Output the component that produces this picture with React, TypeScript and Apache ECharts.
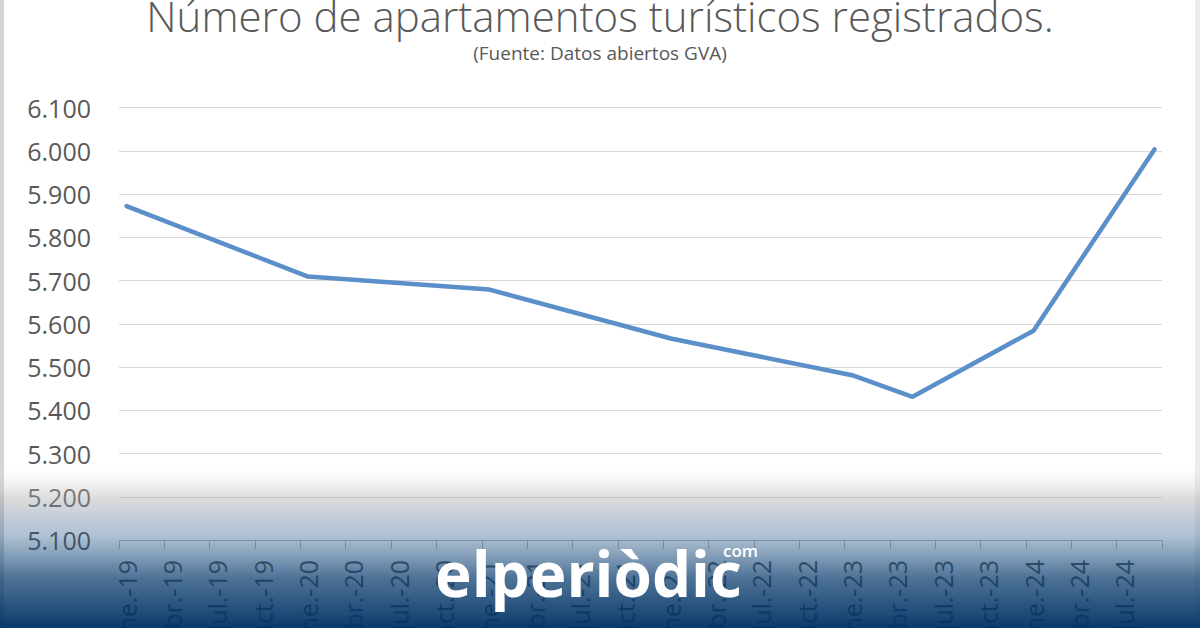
import React, { useEffect, useRef } from "react";
import * as echarts from "echarts";

const TITLE = "Número de apartamentos turísticos registrados.";
const SUBTITLE = "(Fuente: Datos abiertos GVA)";

const monthNames = ["ene.", "feb.", "mar.", "abr.", "may.", "jun.", "jul.", "ago.", "sept.", "oct.", "nov.", "dic."];
const years = ["19", "20", "21", "22", "23", "24"];
const lastCategory = "sept.-24";

const pointDates = ["ene.-19", "ene.-20", "ene.-21", "ene.-22", "ene.-23", "may.-23", "ene.-24", "sept.-24"];
const pointValues = [5872, 5709, 5679, 5566, 5481, 5431, 5584, 6003];

const yMin = 5100;
const yMax = 6100;
const yStep = 100;

function buildCategories(): string[] {
  const out: string[] = [];
  for (const y of years) {
    for (const m of monthNames) {
      const c = `${m}-${y}`;
      out.push(c);
      if (c === lastCategory) return out;
    }
  }
  return out;
}

const fmt = (v: number) => `${Math.floor(v / 1000)}.${String(v % 1000).padStart(3, "0")}`;

export default function App() {
  const ref = useRef<HTMLDivElement>(null);
  useEffect(() => {
    if (!ref.current) return;
    const chart = echarts.init(ref.current, null, { renderer: "svg" });
    const categories = buildCategories();
    const data = categories.map((c) => {
      const i = pointDates.indexOf(c);
      return i >= 0 ? pointValues[i] : null;
    });
    const gray = "#595959";
    chart.setOption({
      animation: false,
      backgroundColor: "#ffffff",
      grid: {
        left: 119,
        right: 38,
        top: 107.5,
        bottom: 88,
        containLabel: false,
        outerBoundsMode: "none",
      },
      xAxis: {
        type: "category",
        data: categories,
        boundaryGap: true,
        axisLine: { show: true, lineStyle: { color: "#bfbfbf", width: 1 } },
        axisTick: { show: true, interval: 2, length: 9, lineStyle: { color: "#bfbfbf" } },
        axisLabel: {
          interval: 2,
          rotate: 90,
          margin: 20,
          color: gray,
          fontFamily: "Open Sans",
          fontSize: 25,
        },
        splitLine: { show: false },
      },
      yAxis: {
        type: "value",
        min: yMin,
        max: yMax,
        interval: yStep,
        axisLine: { show: false },
        axisTick: { show: false },
        axisLabel: {
          formatter: fmt,
          color: gray,
          fontFamily: "Open Sans",
          fontSize: 25,
          margin: 28,
        },
        splitLine: { lineStyle: { color: "#d9d9d9", width: 1.2 } },
      },
      series: [
        {
          type: "line",
          data,
          connectNulls: true,
          showSymbol: false,
          symbol: "none",
          lineStyle: { color: "#5b8fc9", width: 4.5, cap: "round", join: "round" },
          z: 3,
        },
      ],
      graphic: [
        {
          type: "text",
          left: "center",
          top: -6,
          style: { text: TITLE, fill: gray, font: "300 42px 'Open Sans'" },
          z: 10,
        },
        {
          type: "text",
          left: "center",
          top: 43,
          style: { text: SUBTITLE, fill: gray, font: "19px 'Open Sans'" },
          z: 10,
        },
        {
          type: "rect",
          shape: { x: 0, y: 0, width: 4, height: 628 },
          style: { fill: "#d4d4d4" },
          z: 10,
        },
        {
          type: "rect",
          shape: { x: 1195, y: 0, width: 5, height: 628 },
          style: { fill: "#ececec" },
          z: 10,
        },
        {
          type: "rect",
          shape: { x: 0, y: 460, width: 1200, height: 168 },
          style: {
            fill: new echarts.graphic.LinearGradient(0, 0, 0, 1, [
              { offset: 0, color: "rgba(255,255,255,0)" },
              { offset: 0.22, color: "rgba(170,170,170,0.4)" },
              { offset: 0.45, color: "rgba(30,80,130,0.35)" },
              { offset: 0.7, color: "rgba(10,60,110,0.72)" },
              { offset: 1, color: "rgba(0,50,100,0.96)" },
            ]),
          },
          z: 20,
        },
        {
          type: "text",
          x: 435,
          y: 573,
          style: {
            text: "elperiòdic",
            fill: "#ffffff",
            font: "bold 62px 'Open Sans'",
            verticalAlign: "middle",
            align: "left",
          },
          z: 30,
        },
        {
          type: "text",
          x: 723,
          y: 550,
          style: {
            text: "com",
            fill: "#ffffff",
            font: "600 17px 'Open Sans'",
            verticalAlign: "middle",
            align: "left",
          },
          z: 30,
        },
      ],
    });
    return () => chart.dispose();
  }, []);
  return <div ref={ref} style={{ position: "fixed", left: 0, top: 0, width: 1200, height: 628 }} />;
}
